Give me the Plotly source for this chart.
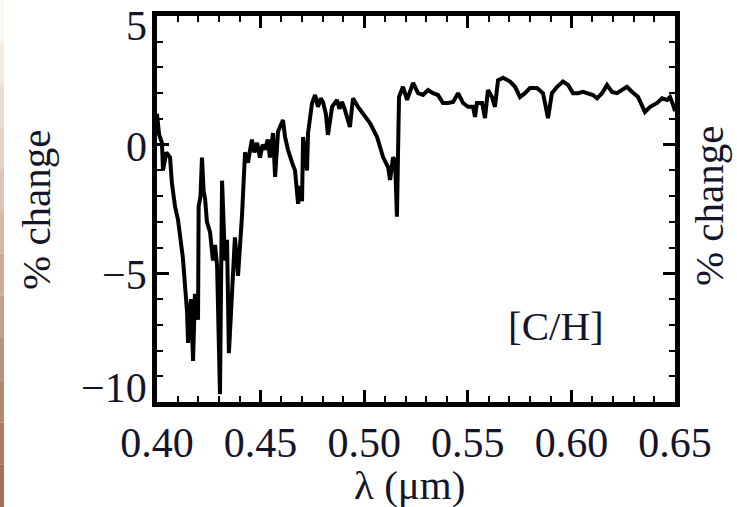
import plotly.graph_objects as go

# 波长 (μm) 与 % change
wavelength = [
    0.4000, 0.4010, 0.4024, 0.4029, 0.4045, 0.4063, 0.4072, 0.4087, 0.4101, 0.4125,
    0.4145, 0.4150, 0.4157, 0.4164, 0.4174, 0.4183, 0.4190, 0.4198, 0.4201, 0.4210,
    0.4217, 0.4225, 0.4232, 0.4241, 0.4256, 0.4270, 0.4280, 0.4290, 0.4304, 0.4314,
    0.4328, 0.4338, 0.4347, 0.4362, 0.4376, 0.4391, 0.4410, 0.4425, 0.4439, 0.4458,
    0.4470, 0.4483, 0.4497, 0.4510, 0.4521, 0.4535, 0.4545, 0.4560, 0.4570, 0.4584,
    0.4608, 0.4618, 0.4632, 0.4652, 0.4666, 0.4681, 0.4690, 0.4700, 0.4705, 0.4724,
    0.4729, 0.4748, 0.4763, 0.4777, 0.4790, 0.4801, 0.4815, 0.4825, 0.4845, 0.4869,
    0.4880, 0.4893, 0.4907, 0.4931, 0.4946, 0.4970, 0.4994, 0.5028, 0.5062, 0.5091,
    0.5115, 0.5125, 0.5139, 0.5149, 0.5158, 0.5168, 0.5187, 0.5207, 0.5236, 0.5260,
    0.5284, 0.5308, 0.5332, 0.5356, 0.5380, 0.5404, 0.5429, 0.5453, 0.5477, 0.5501,
    0.5525, 0.5535, 0.5544, 0.5569, 0.5583, 0.5597, 0.5617, 0.5631, 0.5646, 0.5670,
    0.5704, 0.5728, 0.5752, 0.5776, 0.5800, 0.5834, 0.5863, 0.5887, 0.5906, 0.5931,
    0.5959, 0.5984, 0.6008, 0.6032, 0.6056, 0.6080, 0.6104, 0.6124, 0.6148, 0.6172,
    0.6196, 0.6220, 0.6244, 0.6268, 0.6293, 0.6322, 0.6355, 0.6380, 0.6414, 0.6438,
    0.6462, 0.6476, 0.6491, 0.6500,
]
pct_change = [
    1.2, 0.4, 0.07, -1.0, -0.3, -0.5, -1.5, -2.4, -2.9, -4.4,
    -6.5, -7.7, -6.6, -6.0, -8.4, -5.8, -6.3, -6.8, -2.4, -2.0,
    -0.5, -1.8, -2.1, -3.0, -3.4, -4.5, -3.9, -4.7, -9.7, -1.4,
    -4.5, -3.7, -8.1, -5.4, -3.6, -5.1, -2.8, -0.3, -0.7, 0.2,
    -0.3, 0.07, -0.5, 0.0, -0.2, 0.2, -0.5, 0.45, -1.25, 0.5,
    0.96, 0.3, -0.2, -0.7, -1.0, -2.3, -1.6, -2.2, 0.3, -1.0,
    0.45, 1.6, 1.93, 1.47, 1.8, 1.66, 1.2, 0.38, 1.47, 1.74,
    1.4, 1.66, 1.35, 0.69, 1.8, 1.47, 1.23, 0.84, 0.3, -0.48,
    -0.87, -1.37, -0.5, -0.6, -2.8, 1.85, 2.25, 1.74, 2.4, 2.0,
    1.93, 2.12, 2.0, 1.93, 1.62, 1.62, 1.66, 2.0, 1.62, 1.47,
    1.47, 1.08, 1.62, 1.62, 1.03, 2.12, 1.85, 1.47, 2.5, 2.6,
    2.45, 2.25, 1.85, 2.0, 2.2, 2.2, 2.0, 1.03, 2.0, 2.25,
    2.45, 2.32, 2.0, 2.0, 2.05, 2.0, 1.93, 1.8, 2.0, 2.32,
    2.05, 2.0, 2.12, 2.25, 2.05, 1.85, 1.27, 1.47, 1.62, 1.8,
    1.74, 1.85, 1.54, 1.3,
]

x_ticks = [0.40, 0.45, 0.50, 0.55, 0.60, 0.65]
x_tick_labels = ['0.40', '0.45', '0.50', '0.55', '0.60', '0.65']
y_ticks = [-10, -5, 0, 5]
y_tick_labels = ['\u221210', '\u22125', '0', '5']
y_label_shift = [14, -2, -2, -10]  # 标签在轴端内收，仿照原图

font_tick = dict(family='Liberation Serif', size=42, color='#14142a')
font_title = dict(family='Liberation Serif', size=41, color='#14142a')

fig = go.Figure()
fig.add_trace(go.Scatter(x=wavelength, y=pct_change, mode='lines',
                         line=dict(color='black', width=4), showlegend=False))

axis_common = dict(showline=True, linewidth=5, linecolor='black', mirror='ticks',
                   ticks='inside', tickwidth=3, ticklen=12, tickcolor='black',
                   showgrid=False, zeroline=False, tickfont=font_tick,
                   automargin=False, ticklabeloverflow='allow')

fig.update_xaxes(range=[0.40, 0.65], tickvals=x_ticks, ticktext=x_tick_labels,
                 minor=dict(dtick=0.01, ticks='inside', ticklen=6, tickwidth=2, tickcolor='black'),
                 **axis_common)
fig.update_yaxes(range=[-10, 5], tickvals=y_ticks, showticklabels=False,
                 minor=dict(dtick=1, ticks='inside', ticklen=6, tickwidth=2, tickcolor='black'),
                 **axis_common)

# y 轴刻度标签（用注释以便微调位置）
for v, lab, s in zip(y_ticks, y_tick_labels, y_label_shift):
    fig.add_annotation(text=lab, xref='paper', yref='y', x=0, y=v, xanchor='right',
                       yanchor='middle', xshift=-8, yshift=s, showarrow=False, font=font_tick)

# 坐标轴标题和标注
fig.add_annotation(text='% change', xref='paper', yref='paper', x=-0.2336, y=0.50,
                   xanchor='center', yanchor='middle',
                   textangle=-90, showarrow=False, font=font_title)
fig.add_annotation(text='% change', xref='paper', yref='paper', x=1.0656, y=0.51,
                   xanchor='center', yanchor='middle',
                   textangle=-90, showarrow=False, font=font_title)
fig.add_annotation(text='\u03bb (\u03bcm)', xref='paper', yref='paper', x=0.488, y=-0.215,
                   xanchor='center', yanchor='middle', showarrow=False, font=font_title)
fig.add_annotation(text='[C/H]', x=0.5926, y=-7.05, xanchor='center', yanchor='middle',
                   showarrow=False, font=font_title)

# 左边缘的渐变色条
strip_colors = ['#faf6f2', '#f3ebe4', '#ebdfd5', '#e3d2c5', '#dbc5b5', '#d3b8a6',
                '#cbab97', '#c39e88', '#bb927b', '#b3866e', '#ab7b62', '#a47158']
n = len(strip_colors)
for i, c in enumerate(strip_colors):
    fig.add_shape(type='rect', xref='paper', yref='paper', layer='below',
                  x0=-0.3031, x1=-0.2954, y0=1.0415 - (i + 1) * 1.3135 / n, y1=1.0415 - i * 1.3135 / n,
                  fillcolor=c, line=dict(width=0))

fig.update_layout(width=737, height=507, margin=dict(l=157, r=62, t=16, b=105),
                  plot_bgcolor='white', paper_bgcolor='white')

# 去掉页面默认的 8px 边距，隐藏工具栏
fig.write_html('out.html', config={'displayModeBar': False},
               post_script="document.body.style.margin='0';")
